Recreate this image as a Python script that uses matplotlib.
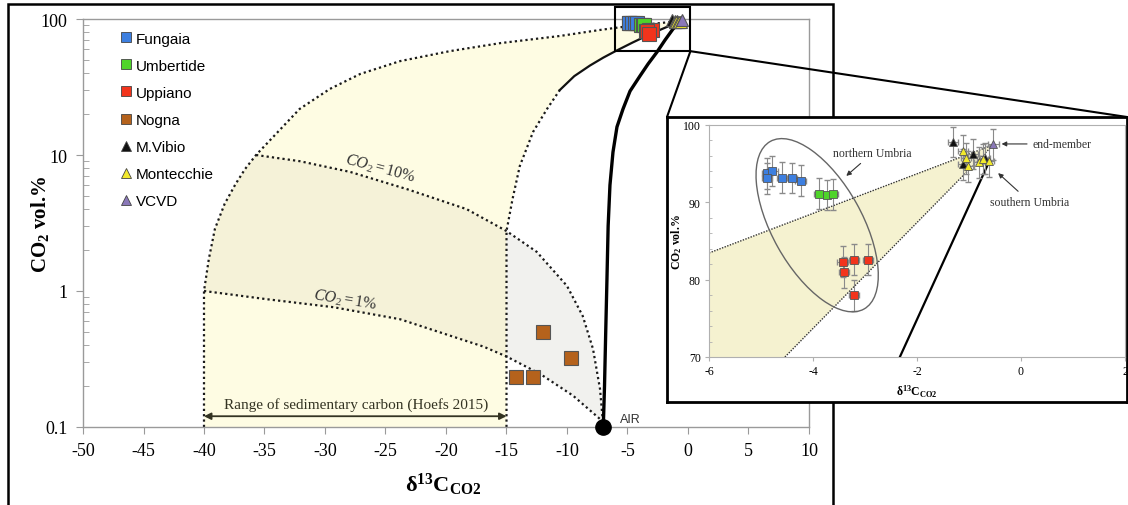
import numpy as np
import matplotlib
matplotlib.use('Agg')
import matplotlib.pyplot as plt
from matplotlib.lines import Line2D
from matplotlib.patches import Ellipse, Rectangle, ConnectionPatch
from matplotlib.transforms import IdentityTransform
from matplotlib.ticker import MultipleLocator, FixedLocator, LogLocator, NullFormatter

plt.rcParams['font.family'] = ['Liberation Serif', 'DejaVu Serif']
plt.rcParams['mathtext.fontset'] = 'custom'
plt.rcParams['mathtext.rm'] = 'Liberation Serif'
plt.rcParams['mathtext.it'] = 'Liberation Serif:italic'
plt.rcParams['mathtext.bf'] = 'Liberation Serif:bold'
plt.rcParams['axes.unicode_minus'] = False

# ── sample data: d13C (permil) vs CO2 (vol.%) ─────────────────────────────
fungaia_x = [-4.89, -4.78, -4.89, -4.59, -4.40, -4.24]
fungaia_y = [93.75, 94.05, 93.1, 93.2, 93.15, 92.8]
umbertide_x = [-3.88, -3.74, -3.61]
umbertide_y = [91.1, 90.95, 91.05]
uppiano_x = [-3.43, -3.21, -2.94, -3.40, -3.21]
uppiano_y = [82.3, 82.6, 82.6, 80.95, 78.0]
nogna_x = [-12.0, -9.7, -14.2, -12.8]
nogna_y = [0.50, 0.32, 0.235, 0.235]
mvibio_x = [-1.31, -0.92, -0.69, -1.11]
mvibio_y = [97.8, 96.25, 95.7, 94.9]
montecchie_x = [-1.11, -1.06, -1.01, -0.80, -0.74, -0.61]
montecchie_y = [96.7, 95.7, 94.65, 95.2, 95.6, 95.3]
vcvd_x = [-0.53]
vcvd_y = [97.5]

sample_yerr = 2.0
sample_xerr = 0.1

# ── model curves ──────────────────────────────────────────────────────────
air_x, air_y = -7.0, 0.1
left_x = [-40, -40, -39.6, -39.1, -38.3, -37.4, -36.6, -35.7, -32.1, -29.6,
          -27.1, -23.8, -19.7, -15.5, -10.6, -7.3, -5.6, -0.5]
left_y = [0.1, 1.0, 1.72, 2.86, 4.36, 6.1, 7.9, 10.0, 21.8, 30.6,
          39.4, 49, 58, 66.5, 75, 83, 87, 97]
right_x = [-15, -15, -14.5, -13.9, -12.8, -11.65, -10.6, -9.4, -8.1, -7.0,
           -6.0, -4.6, -3.1, -1.8, -0.5]
right_y = [0.1, 2.76, 4.75, 8.3, 14.8, 21.8, 30.0, 38.0, 45.5, 52.0,
           58, 67, 77.6, 87, 97]
co2_10_x = [-35.7, -32.07, -27.9, -23.2, -18.3, -15, -12.5, -10.0, -8.7, -7.85, -7.27, -7]
co2_10_y = [10.0, 9.0, 7.5, 5.6, 4.0, 2.76, 1.94, 1.09, 0.655, 0.375, 0.19, 0.1]
co2_1_x = [-40, -34.8, -29.3, -23.8, -16.9, -15, -12.2, -9.5, -7.3, -7]
co2_1_y = [1.0, 0.87, 0.76, 0.62, 0.39, 0.33, 0.245, 0.17, 0.115, 0.1]
air_mix_x = [-7.0, -6.9, -6.8, -6.7, -6.6, -6.45, -6.2, -5.87, -5.37, -4.79,
             -3.97, -3.3, -2.56, -1.9, -1.24, -0.5]
air_mix_y = [0.1, 0.2, 0.5, 1.2, 3.0, 6.0, 10.5, 16.1, 21.8, 29.5,
             38.1, 46.7, 57.2, 70, 84.4, 97]

# inset versions (linear scale)
in_upper_x = [-6.0, -0.53]
in_upper_y = [83.45, 97.45]
in_lower_x = [-4.54, -0.53]
in_lower_y = [70.0, 97.45]
in_air_x = [-2.33, -0.63]
in_air_y = [70.0, 95.0]

groups = [
    ('Fungaia', fungaia_x, fungaia_y, 's', '#3d7fe0'),
    ('Umbertide', umbertide_x, umbertide_y, 's', '#4fd42a'),
    ('Uppiano', uppiano_x, uppiano_y, 's', '#f2341c'),
    ('Nogna', nogna_x, nogna_y, 's', '#b5621c'),
    ('M.Vibio', mvibio_x, mvibio_y, '^', '#111111'),
    ('Montecchie', montecchie_x, montecchie_y, '^', '#f2e92c'),
    ('VCVD', vcvd_x, vcvd_y, '^', '#8a78b8'),
]

W, H = 1128, 506
fig = plt.figure(figsize=(W / 100, H / 100), dpi=100)
fig.patch.set_facecolor('white')

def fpos(x0, y0, x1, y1):
    return [x0 / W, 1 - y1 / H, (x1 - x0) / W, (y1 - y0) / H]

# ── main diagram ───────────────────────────────────────────────────────────
ax = fig.add_axes(fpos(83, 20, 809, 428))
ax.set_yscale('log')
ax.set_xlim(-50, 10)
ax.set_ylim(0.1, 100)

yellow = '#fefce3'
band = '#f5f2d8'
grey = '#f1f1ee'

i10 = left_y.index(10.0)
poly_x = left_x + right_x[::-1]
poly_y = left_y + right_y[::-1]
ax.fill(poly_x, poly_y, color=yellow, lw=0, zorder=1)
band_x = left_x[1:i10] + co2_10_x[:6] + co2_1_x[5::-1]
band_y = left_y[1:i10] + co2_10_y[:6] + co2_1_y[5::-1]
ax.fill(band_x, band_y, color=band, lw=0, zorder=1)
grey_x = co2_10_x[5:] + co2_1_x[:4:-1]
grey_y = co2_10_y[5:] + co2_1_y[:4:-1]
ax.fill(grey_x, grey_y, color=grey, lw=0, zorder=1)

dot = dict(color='#1a1a1a', ls=(0, (1, 1.4)), lw=1.6, zorder=2)
ax.plot(left_x, left_y, **dot)
ax.plot(right_x[:7], right_y[:7], **dot)
ax.plot(right_x[6:], right_y[6:], color='#111111', lw=1.6, zorder=2)
ax.plot(co2_10_x, co2_10_y, **dot)
ax.plot(co2_1_x, co2_1_y, **dot)
ax.plot(air_mix_x, air_mix_y, color='black', lw=2.4, zorder=3,
        solid_joinstyle='round')
ax.plot([air_x], [air_y], 'o', color='black', ms=11, zorder=6, clip_on=False)
ax.text(-5.6, 0.114, 'AIR', family='Liberation Sans', fontsize=9,
        color='#333333', va='center', ha='left')

ax.text(-25.4, 8.0, r'$\mathit{CO_2=10\%}$', fontsize=11.5, rotation=-15,
        ha='center', va='center', color='#333333')
ax.text(-28.3, 0.86, r'$\mathit{CO_2=1\%}$', fontsize=11.5, rotation=-9,
        ha='center', va='center', color='#333333')

ax.annotate('', xy=(-15, 0.12), xytext=(-40, 0.12),
            arrowprops=dict(arrowstyle='<|-|>', color='#333322', lw=1.3,
                            mutation_scale=10, shrinkA=0, shrinkB=0))
ax.text(-27.4, 0.148, 'Range of sedimentary carbon (Hoefs 2015)', fontsize=11,
        ha='center', va='center', color='#333322')

for name, xs, ys, mk, col in groups:
    ms = 10 if mk == 's' else 9
    ax.plot(xs, ys, mk, color=col, mec='#555555', mew=0.8, ms=ms, zorder=5,
            clip_on=False)

# zoom box
ax.add_patch(Rectangle((-6.0, 58), 6.2, 64, fill=False, ec='black', lw=1.5,
                       zorder=7, clip_on=False))

gray_spine = '#9a9a9a'
for s in ax.spines.values():
    s.set_color(gray_spine)
    s.set_linewidth(1)
ax.xaxis.set_major_locator(MultipleLocator(5))
ax.yaxis.set_major_locator(FixedLocator([0.1, 1, 10, 100]))
ax.set_yticklabels(['0.1', '1', '10', '100'])
ax.yaxis.set_minor_locator(LogLocator(base=10, subs=np.arange(2, 10)))
ax.yaxis.set_minor_formatter(NullFormatter())
ax.tick_params(axis='both', which='major', direction='out', length=5,
               color=gray_spine, labelsize=13, pad=6)
ax.tick_params(axis='y', which='minor', direction='in', length=4,
               color=gray_spine)
ax.text(0.496, -0.14, r'$\mathbf{δ^{13}C_{CO2}}$', transform=ax.transAxes,
        fontsize=16, ha='center', va='center')
ax.text(-0.059, 0.5, r'CO$_{\mathbf{2}}$ vol.%', transform=ax.transAxes,
        fontsize=15, fontweight='bold', ha='center', va='center', rotation=90)

handles = [Line2D([], [], ls='none', marker=mk, color=col, mec='#444444',
                  mew=0.6, ms=7) for name, xs, ys, mk, col in groups]
ax.legend(handles, [g[0] for g in groups], loc='upper left',
          bbox_to_anchor=(0.042, 0.988), frameon=False, borderpad=0,
          handlelength=0.7, handletextpad=0.25, labelspacing=0.86,
          prop={'family': 'Liberation Sans', 'size': 11})

# outer frame
fig.add_artist(Rectangle((8 / W, -0.05), (833 - 8) / W, 1 - 5 / H + 0.05,
                         transform=fig.transFigure, fill=False, ec='black',
                         lw=1.8, zorder=1))

# ── inset ──────────────────────────────────────────────────────────────────
ax_frame = fig.add_axes(fpos(667, 118, 1127, 403), zorder=2)
ax_frame.set_xticks([])
ax_frame.set_yticks([])
for s in ax_frame.spines.values():
    s.set_color('black')
    s.set_linewidth(2)

ax_in = fig.add_axes(fpos(709, 126, 1125, 358), zorder=3)
ax_in.set_xlim(-6, 2)
ax_in.set_ylim(70, 100)
ax_in.fill(in_upper_x + in_lower_x[::-1] + [-6.0],
           in_upper_y + in_lower_y[::-1] + [70.0],
           color='#f5f2d0', lw=0, zorder=1)
ax_in.plot(in_upper_x, in_upper_y, color='#333333', ls=(0, (1, 1)), lw=1, zorder=2)
ax_in.plot(in_lower_x, in_lower_y, color='#333333', ls=(0, (1, 1)), lw=1, zorder=2)
ax_in.plot(in_air_x, in_air_y, color='black', lw=1.6, zorder=2)

for name, xs, ys, mk, col in groups:
    ax_in.errorbar(xs, ys, yerr=sample_yerr, xerr=sample_xerr, fmt='none',
                   ecolor='#8a8a8a', elinewidth=0.8, capsize=2, zorder=3)
    ax_in.plot(xs, ys, mk, color=col, mec='#555555', mew=0.6, ms=5.5, zorder=4)

center = ax_in.transData.transform((-3.92, 87.04))
ax_in.add_patch(Ellipse(center, width=192, height=90, angle=-60.8,
                        transform=IdentityTransform(), fill=False,
                        ec='#666666', lw=1, zorder=5))

arr = dict(arrowstyle='-|>', color='#333333', lw=0.8, mutation_scale=7,
           shrinkA=2, shrinkB=1)
ax_in.annotate('northern Umbria', xy=(-3.38, 93.3), xytext=(-2.85, 96.4),
               fontsize=8.5, ha='center', va='center', color='#333333',
               arrowprops=arr)
ax_in.annotate('end-member', xy=(-0.40, 97.55), xytext=(0.79, 97.55),
               fontsize=8.5, ha='center', va='center', color='#333333',
               arrowprops=arr)
ax_in.annotate('southern Umbria', xy=(-0.46, 93.9), xytext=(0.17, 90.05),
               fontsize=8.5, ha='center', va='center', color='#333333',
               arrowprops=arr)

for s in ax_in.spines.values():
    s.set_color('#b0b0b0')
    s.set_linewidth(0.8)
ax_in.xaxis.set_major_locator(MultipleLocator(2))
ax_in.yaxis.set_major_locator(MultipleLocator(10))
ax_in.yaxis.set_minor_locator(MultipleLocator(2))
ax_in.tick_params(axis='both', which='major', direction='out', length=3,
                  color='#b0b0b0', labelsize=8.5, pad=3)
ax_in.tick_params(axis='y', which='minor', direction='in', length=2,
                  color='#b0b0b0')
ax_in.text(0.5, -0.147, r'$\mathbf{δ^{13}C_{CO2}}$', transform=ax_in.transAxes,
           fontsize=8.5, ha='center', va='center')
ax_in.text(-0.077, 0.5, r'CO$_{\mathbf{2}}$ vol.%', transform=ax_in.transAxes,
           fontsize=8.5, fontweight='bold', ha='center', va='center',
           rotation=90)

# connectors from zoom box to inset frame
for corner in [(0, 1), (1, 1)]:
    con = ConnectionPatch(xyA=(0.2, 58), coordsA=ax.transData,
                          xyB=corner, coordsB=ax_frame.transAxes,
                          color='black', lw=1.5, zorder=4)
    fig.add_artist(con)

fig.savefig('out.png', dpi=100)
